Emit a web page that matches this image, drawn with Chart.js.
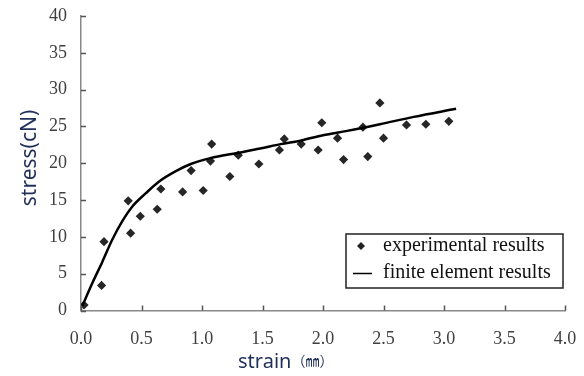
<!DOCTYPE html>
<html>
<head>
<meta charset="utf-8">
<script src="https://cdn.jsdelivr.net/npm/chart.js@4/dist/chart.umd.min.js"></script>
<style>
  html, body { margin: 0; padding: 0; background: #fff; }
  #box { width: 584px; height: 376px; }
</style>
</head>
<body>
<div id="box"><canvas id="chart" width="584" height="376"></canvas></div>
<script>
// experimental points (strain mm, stress cN)
var expStrain = [0.025, 0.17, 0.19, 0.39, 0.41, 0.49, 0.63, 0.66, 0.84, 0.91, 1.01, 1.07, 1.08, 1.23, 1.30, 1.47, 1.64, 1.68, 1.82, 1.96, 1.99, 2.12, 2.17, 2.33, 2.37, 2.47, 2.50, 2.69, 2.85, 3.04];
var expStress = [0.75, 3.4, 9.35, 14.9, 10.5, 12.8, 13.75, 16.5, 16.1, 19.0, 16.3, 20.3, 22.6, 18.2, 21.1, 19.9, 21.8, 23.3, 22.6, 21.8, 25.5, 23.4, 20.5, 24.9, 20.9, 28.2, 23.4, 25.2, 25.3, 25.7];

// finite element curve
var feStrain = [0.01, 0.093, 0.176, 0.258, 0.34, 0.423, 0.534, 0.643, 0.78, 0.907, 1.07, 1.29, 1.48, 1.65, 1.82, 2.0, 2.2, 2.47, 2.75, 3.10];
var feStress = [0.6, 3.7, 6.6, 9.6, 12.1, 14.1, 15.9, 17.5, 18.9, 19.9, 20.7, 21.4, 22.0, 22.6, 23.1, 23.8, 24.4, 25.3, 26.3, 27.4];

var seriesNames = ['experimental results', 'finite element results'];
var xTitle = 'strain';
var xUnit = '（㎜）';
var yTitle = 'stress(cN)';

function toPoints(xs, ys) {
    var pts = [];
    for (var i = 0; i < xs.length; i++) {
        pts.push({ x: xs[i], y: ys[i] });
    }
    return pts;
}

// tick marks pointing inward, legend box and axis titles
var decorPlugin = {
    id: 'decor',
    afterDraw: function(chart) {
        var ctx = chart.ctx;
        var area = chart.chartArea;
        var xs = chart.scales.x;
        var ys = chart.scales.y;
        ctx.save();

        // inner ticks
        ctx.strokeStyle = '#555';
        ctx.lineWidth = 1.5;
        ctx.beginPath();
        xs.ticks.forEach(function(t) {
            var px = Math.round(xs.getPixelForValue(t.value)) + 0.5;
            ctx.moveTo(px, area.bottom);
            ctx.lineTo(px, area.bottom - 5);
        });
        ys.ticks.forEach(function(t) {
            var py = Math.round(ys.getPixelForValue(t.value)) + 0.5;
            ctx.moveTo(area.left, py);
            ctx.lineTo(area.left + 5, py);
        });
        ctx.stroke();

        // legend
        var lx = 346, ly = 234, lw = 217, lh = 54;
        ctx.strokeStyle = '#222';
        ctx.lineWidth = 1.5;
        ctx.fillStyle = '#fff';
        ctx.fillRect(lx, ly, lw, lh);
        ctx.strokeRect(lx, ly, lw, lh);

        ctx.fillStyle = '#222';
        ctx.beginPath();
        ctx.moveTo(361, 242);
        ctx.lineTo(365, 246);
        ctx.lineTo(361, 250);
        ctx.lineTo(357, 246);
        ctx.closePath();
        ctx.fill();

        ctx.strokeStyle = '#000';
        ctx.lineWidth = 1.5;
        ctx.beginPath();
        ctx.moveTo(353, 273.5);
        ctx.lineTo(372, 273.5);
        ctx.stroke();

        ctx.fillStyle = '#111';
        ctx.font = '20px "Liberation Serif"';
        ctx.textAlign = 'left';
        ctx.textBaseline = 'middle';
        ctx.fillText(chart.data.datasets[0].label, 383, 246);
        ctx.fillText(chart.data.datasets[1].label, 383, 273);

        // x title
        ctx.fillStyle = '#1f2f5a';
        ctx.textBaseline = 'alphabetic';
        ctx.font = '20px "Noto Sans"';
        ctx.fillText(xTitle, 238, 368);
        var w = ctx.measureText(xTitle).width;
        ctx.font = '14px "Noto Sans CJK SC"';
        ctx.fillText(xUnit, 238 + w, 366);

        // y title
        ctx.translate(36, 158);
        ctx.rotate(-Math.PI / 2);
        ctx.font = '21px "Noto Sans"';
        ctx.textAlign = 'center';
        ctx.fillText(yTitle, 0, 0);

        ctx.restore();
    }
};

var ctx = document.getElementById('chart');
var chart = new Chart(ctx, {
    type: 'scatter',
    data: {
        datasets: [{
            label: seriesNames[0],
            data: toPoints(expStrain, expStress),
            pointStyle: 'rectRot',
            pointRadius: 4.6,
            pointBackgroundColor: '#262626',
            pointBorderColor: '#262626',
            pointBorderWidth: 0,
            showLine: false,
            order: 2
        }, {
            label: seriesNames[1],
            data: toPoints(feStrain, feStress),
            showLine: true,
            borderColor: '#000',
            borderWidth: 2.5,
            pointRadius: 0,
            cubicInterpolationMode: 'monotone',
            order: 1
        }]
    },
    options: {
        responsive: false,
        animation: false,
        layout: { padding: { top: 16, right: 19, left: 0, bottom: 0 } },
        plugins: {
            legend: { display: false },
            tooltip: { enabled: false }
        },
        scales: {
            x: {
                type: 'linear',
                min: 0,
                max: 4,
                afterFit: function(scale) {
                    scale.height = 65.5;
                    scale.paddingLeft = 0;
                    scale.paddingRight = 0;
                },
                grid: { display: false, drawTicks: false },
                border: { display: true, color: '#888', width: 1.5 },
                ticks: {
                    stepSize: 0.5,
                    padding: 18,
                    color: '#404040',
                    font: { family: '"Liberation Serif"', size: 18 },
                    callback: function(v) { return v.toFixed(1); }
                }
            },
            y: {
                min: 0,
                max: 40,
                afterFit: function(scale) {
                    scale.width = 81;
                    scale.paddingTop = 0;
                    scale.paddingBottom = 0;
                },
                grid: { display: false, drawTicks: false },
                border: { display: true, color: '#888', width: 1.5 },
                ticks: {
                    stepSize: 5,
                    padding: 14,
                    color: '#404040',
                    font: { family: '"Liberation Serif"', size: 18 }
                }
            }
        }
    },
    plugins: [decorPlugin]
});
</script>
</body>
</html>
